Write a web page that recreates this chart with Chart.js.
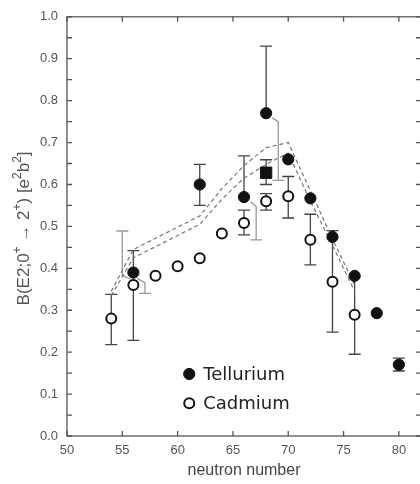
<!DOCTYPE html>
<html>
<head>
<meta charset="utf-8">
<title>B(E2) Te / Cd</title>
<script src="https://cdn.jsdelivr.net/npm/chart.js@4"></script>
<style>
  html, body { margin: 0; padding: 0; background: #fff; overflow: hidden; }
  #wrap { width: 430px; height: 484px; }
</style>
</head>
<body>
<div id="wrap"><canvas id="c" width="430" height="484"></canvas></div>
<script>
// Tellurium
const teN  = [56, 62, 66, 68, 70, 72, 74, 76, 78, 80];
const teB  = [0.390, 0.600, 0.570, 0.770, 0.660, 0.567, 0.475, 0.382, 0.293, 0.170];
const teLo = [null, 0.550, null, null, null, null, null, null, null, 0.155];
const teHi = [null, 0.648, 0.668, 0.930, null, null, null, null, null, 0.186];

// Cadmium
const cdN  = [54, 56, 58, 60, 62, 64, 66, 68, 70, 72, 74, 76];
const cdB  = [0.280, 0.360, 0.382, 0.405, 0.424, 0.483, 0.508, 0.560, 0.572, 0.468, 0.368, 0.289];
const cdLo = [0.218, 0.228, null, null, null, null, 0.480, 0.539, 0.520, 0.408, 0.248, 0.195];
const cdHi = [0.338, 0.442, null, null, null, null, 0.539, 0.578, 0.619, 0.529, 0.490, 0.382];

// second Te value at N = 68 (square)
const sqN  = [68];
const sqB  = [0.628];
const sqLo = [0.600];
const sqHi = [0.659];

// other measurements, drawn shifted in N and joined to their point
const altFromN = [55.75, 56.35, 66.6, 68.55];
const altFromB = [0.374, 0.376, 0.559, 0.759];
const altN     = [55.0, 57.05, 67.1, 69.1];
const altStart = [0.383, 0.365, 0.548, 0.750];
const altEnd   = [0.489, 0.340, 0.468, 0.610];

// calculated band
const calcN   = [54, 56, 62, 64, 66, 68, 70, 72, 74, 76];
const calcUp  = [0.345, 0.445, 0.525, 0.590, 0.645, 0.688, 0.700, 0.585, 0.470, 0.360];
const calcLow = [0.335, 0.425, 0.505, 0.565, 0.615, 0.648, 0.675, 0.560, 0.455, 0.345];

const xTicks = [50, 55, 60, 65, 70, 75, 80];
const yTicks = [0.0, 0.1, 0.2, 0.3, 0.4, 0.5, 0.6, 0.7, 0.8, 0.9, 1.0];

// y title pieces: [text, superscript?]
const yTitle = [['B(E2;0', false], ['+', true], [' \u2192 2', false], ['+', true],
                [') [e', false], ['2', true], ['b', false], ['2', true], [']', false]];

const pts = (xs, ys) => xs.map((v, i) => ({ x: v, y: ys[i] }));

const AXIS = '#555';
const BAR = '#444';
const ALT = '#999';
const FONT = "'Liberation Sans', Arial, sans-serif";

const extras = {
  id: 'extras',
  beforeDatasetsDraw(chart) {
    const { ctx, scales: { x, y } } = chart;
    ctx.save();
    ctx.lineWidth = 1.3;
    const cap = (px, py) => { ctx.moveTo(px - 6, py); ctx.lineTo(px + 6, py); };
    const bars = (ns, vals, los, his, col) => {
      ctx.strokeStyle = col;
      ctx.beginPath();
      ns.forEach((n, i) => {
        if (los[i] == null && his[i] == null) return;
        const px = x.getPixelForValue(n);
        const lo = y.getPixelForValue(los[i] ?? vals[i]);
        const hi = y.getPixelForValue(his[i] ?? vals[i]);
        ctx.moveTo(px, lo); ctx.lineTo(px, hi);
        if (los[i] != null) cap(px, lo);
        if (his[i] != null) cap(px, hi);
      });
      ctx.stroke();
    };
    bars(cdN, cdB, cdLo, cdHi, BAR);
    bars(teN, teB, teLo, teHi, BAR);
    bars(sqN, sqB, sqLo, sqHi, BAR);

    ctx.strokeStyle = ALT;
    ctx.beginPath();
    altN.forEach((n, i) => {
      const px = x.getPixelForValue(n);
      ctx.moveTo(x.getPixelForValue(altFromN[i]), y.getPixelForValue(altFromB[i]));
      ctx.lineTo(px, y.getPixelForValue(altStart[i]));
      ctx.lineTo(px, y.getPixelForValue(altEnd[i]));
      cap(px, y.getPixelForValue(altEnd[i]));
    });
    ctx.stroke();
    ctx.restore();
  },
  afterDraw(chart) {
    const { ctx, chartArea: a, scales: { x, y } } = chart;
    ctx.save();
    ctx.strokeStyle = AXIS;
    ctx.lineWidth = 1.3;
    ctx.strokeRect(a.left, a.top, a.right - a.left, a.bottom - a.top);
    ctx.beginPath();
    const t = 5;
    xTicks.forEach(v => {
      const px = x.getPixelForValue(v);
      ctx.moveTo(px, a.bottom); ctx.lineTo(px, a.bottom - t);
      ctx.moveTo(px, a.top); ctx.lineTo(px, a.top + t);
    });
    for (let i = 0; i < yTicks.length; i++) {
      const vals = [yTicks[i]];
      if (i < yTicks.length - 1) vals.push((yTicks[i] + yTicks[i + 1]) / 2);
      vals.forEach(v => {
        const py = y.getPixelForValue(v);
        ctx.moveTo(a.left, py); ctx.lineTo(a.left + t, py);
        ctx.moveTo(a.right, py); ctx.lineTo(a.right - t, py);
      });
    }
    ctx.stroke();

    // y axis title with real superscripts
    const big = '17px ' + FONT, small = '12px ' + FONT;
    let w = 0;
    yTitle.forEach(([s, sup]) => { ctx.font = sup ? small : big; w += ctx.measureText(s).width; });
    ctx.translate(29, (a.top + a.bottom) / 2 + 2);
    ctx.rotate(-Math.PI / 2);
    ctx.fillStyle = '#555';
    ctx.textBaseline = 'alphabetic';
    let cx = -w / 2;
    yTitle.forEach(([s, sup]) => {
      ctx.font = sup ? small : big;
      ctx.fillText(s, cx, sup ? -8 : 0);
      cx += ctx.measureText(s).width;
    });
    ctx.setTransform(1, 0, 0, 1, 0, 0);
    ctx.scale(chart.currentDevicePixelRatio, chart.currentDevicePixelRatio);

    // legend
    const ds = chart.data.datasets;
    const lx = x.getPixelForValue(61.05);
    const rows = [[ds[0], 0.148], [ds[1], 0.078]];
    ctx.font = "18px 'DejaVu Sans', sans-serif";
    ctx.textBaseline = 'middle';
    rows.forEach(([d, v]) => {
      const py = y.getPixelForValue(v);
      ctx.beginPath();
      ctx.arc(lx, py, d.pointRadius, 0, Math.PI * 2);
      ctx.fillStyle = d.pointBackgroundColor;
      ctx.fill();
      ctx.lineWidth = d.pointBorderWidth;
      ctx.strokeStyle = d.pointBorderColor;
      ctx.stroke();
      ctx.fillStyle = '#222';
      ctx.fillText(d.label, lx + 14, py + 1);
    });
    ctx.restore();
  }
};

Chart.defaults.font.family = FONT;

new Chart(document.getElementById('c'), {
  type: 'scatter',
  data: {
    datasets: [
      {
        label: 'Tellurium', data: pts(teN, teB), order: 1,
        pointRadius: 5.6, pointBackgroundColor: '#111', pointBorderColor: '#111', pointBorderWidth: 1
      },
      {
        label: 'Cadmium', data: pts(cdN, cdB), order: 2,
        pointRadius: 5, pointBackgroundColor: '#fff', pointBorderColor: '#111', pointBorderWidth: 2
      },
      {
        label: 'Te (2)', data: pts(sqN, sqB), order: 1, pointStyle: 'rect',
        pointRadius: 8, pointBackgroundColor: '#111', pointBorderColor: '#111', pointBorderWidth: 1
      },
      {
        label: 'calc upper', data: pts(calcN, calcUp), type: 'line', order: 5,
        borderColor: '#777', borderWidth: 1.2, borderDash: [4, 3], pointRadius: 0, fill: false, tension: 0
      },
      {
        label: 'calc lower', data: pts(calcN, calcLow), type: 'line', order: 5,
        borderColor: '#777', borderWidth: 1.2, borderDash: [4, 3], pointRadius: 0, fill: false, tension: 0
      }
    ]
  },
  options: {
    responsive: false,
    animation: false,
    layout: { padding: { top: 11, right: 8, left: 0, bottom: 0 } },
    plugins: { legend: { display: false }, tooltip: { enabled: false } },
    scales: {
      x: {
        type: 'linear', min: 50, max: 82,
        grid: { display: false, drawTicks: false },
        border: { display: false },
        afterBuildTicks: s => { s.ticks = xTicks.map(v => ({ value: v })); },
        afterFit: s => { s.height = 48; },
        ticks: { color: '#555', font: { size: 13 }, padding: 7, maxRotation: 0 },
        title: { display: true, text: 'neutron number', color: '#444', font: { size: 16 }, padding: { top: 2 } }
      },
      y: {
        type: 'linear', min: 0, max: 1,
        grid: { display: false, drawTicks: false },
        border: { display: false },
        afterBuildTicks: s => { s.ticks = yTicks.map(v => ({ value: v })); },
        afterFit: s => { s.width = 67; },
        ticks: { color: '#555', font: { size: 13 }, padding: 9, callback: v => v.toFixed(1) },
        title: { display: false }
      }
    }
  },
  plugins: [extras]
});
</script>
</body>
</html>
